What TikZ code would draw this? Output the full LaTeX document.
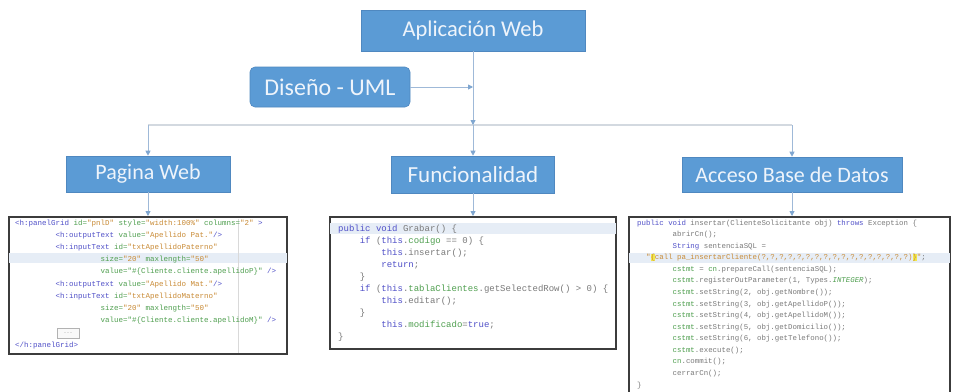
\documentclass[tikz,border=0pt]{standalone}
\usepackage{fontspec}
\setmainfont{Carlito}
\newfontfamily\codefont{Liberation Mono}
\usetikzlibrary{arrows.meta}
\definecolor{boxblue}{HTML}{5B9BD5}
\definecolor{boxedge}{HTML}{4F88C0}
\definecolor{connc}{HTML}{9FB9D8}
\definecolor{arrc}{HTML}{7FA6D0}
\definecolor{hlinec}{HTML}{D3D9E0}
\definecolor{codeframe}{HTML}{3C3C3C}
\definecolor{hlband}{HTML}{E6EDF6}
\definecolor{kwc}{HTML}{5050C8}
\definecolor{grc}{HTML}{4F9F4F}
\definecolor{orc}{HTML}{C98B36}
\definecolor{plc}{HTML}{7A7A7A}
\definecolor{yelc}{HTML}{F2E84B}
\definecolor{labtext}{HTML}{EEF4FB}
\newcommand\kwd[1]{\textcolor{kwc}{#1}}
\newcommand\grn[1]{\textcolor{grc}{#1}}
\newcommand\org[1]{\textcolor{orc}{#1}}
\newcommand\yel[1]{{\setlength\fboxsep{0pt}\colorbox{yelc}{#1}}}
\newcommand\cind[1]{\hspace*{#1\dimexpr0.6em\relax}}
\tikzset{
  lab/.style={fill=boxblue, draw=boxedge, line width=0.6pt, text=labtext,
    font=\fontsize{22}{26}\selectfont, inner sep=0pt},
  conn/.style={draw=connc, line width=0.9pt, -{Triangle[length=5pt,width=5pt,color=arrc]}},
  hline/.style={draw=hlinec, line width=1.4pt},
  codebox/.style={draw=codeframe, line width=2pt, fill=white, inner sep=0pt},
  codetext/.style={anchor=north west, inner sep=0pt, align=left, text=plc},
  band/.style={fill=hlband},
}
\begin{document}
\begin{tikzpicture}[x=1pt,y=-1pt]
\useasboundingbox (0,0) rectangle (953,391);
\clip (0,0) rectangle (953,391);
\fill[white] (0,0) rectangle (953,391);

% label boxes
\node[lab, minimum width=224pt, minimum height=41pt, font=\fontsize{22.5}{26}\selectfont] (app) at (473,30.5) {Aplicación Web};
\node[lab, rounded corners=5pt, minimum width=160pt, minimum height=40pt, font=\fontsize{24}{28}\selectfont] (uml) at (330,87) {Diseño - UML};
\node[lab, minimum width=164pt, minimum height=36pt] (pag) at (148,174) {Pagina Web};
\node[lab, minimum width=163pt, minimum height=37pt, font=\fontsize{23}{27}\selectfont] (fun) at (473,174.5) {Funcionalidad};
\node[lab, minimum width=220pt, minimum height=35pt] (acc) at (792,174.5) {Acceso Base de Datos};

% code boxes
\node[codebox, minimum width=278pt, minimum height=137pt] (code1) at (148,285.5) {};
\node[codebox, minimum width=286pt, minimum height=132pt] (code2) at (473,283) {};
\node[codebox, minimum width=321pt, minimum height=188pt] (code3) at (789.5,311) {};

% highlight bands
\fill[band] ([xshift=1.2pt]code1.west |- 0,253) rectangle ([xshift=-1.2pt]code1.east |- 0,263);
\fill[band] ([xshift=1.2pt]code2.west |- 0,223) rectangle ([xshift=-1.2pt]code2.east |- 0,234);
\fill[band] ([xshift=1.2pt]code3.west |- 0,253) rectangle ([xshift=-1.2pt]code3.east |- 0,263);
\draw[gray!30, line width=0.5pt] (238,218.5) -- (238,353);

% connectors
\coordinate (j) at (473,125);
\draw[hline] (pag.north |- j) -- (acc.north |- j);
\draw[conn] (app.south) -- (j);
\draw[conn] (uml.east) -- (uml.east -| app.south);
\draw[conn] (pag.north |- j) -- (pag.north);
\draw[conn] (j) -- (fun.north);
\draw[conn] (acc.north |- j) -- (acc.north);
\draw[conn] (pag.south) -- (pag.south |- code1.north);
\draw[conn] (fun.south) -- (fun.south |- code2.north);
\draw[conn] (acc.south) -- (acc.south |- code3.north);

% code texts
\node[codetext, font=\codefont\fontsize{7.5pt}{12.2pt}\selectfont] (t1) at (15,219.5) {%
\kwd{<h:panelGrid} \grn{id=}\org{"pnlD"} \grn{style=}\org{"width:100\%"} \grn{columns=}\org{"2"} \kwd{>}\\
\cind{9}\kwd{<h:outputText} \grn{value=}\org{"Apellido Pat."}\kwd{/>}\\
\cind{9}\kwd{<h:inputText} \grn{id=}\org{"txtApellidoPaterno"}\\
\cind{19}\grn{size=}\org{"20"} \grn{maxlength=}\org{"50"}\\
\cind{19}\grn{value=}\grn{"\#\{Cliente.cliente.apellidoP\}"}  \kwd{/>}\\
\cind{9}\kwd{<h:outputText} \grn{value=}\org{"Apellido Mat."}\kwd{/>}\\
\cind{9}\kwd{<h:inputText} \grn{id=}\org{"txtApellidoMaterno"}\\
\cind{19}\grn{size=}\org{"20"} \grn{maxlength=}\org{"50"}\\
\cind{19}\grn{value=}\grn{"\#\{Cliente.cliente.apellidoM\}"}  \kwd{/>}\\
\mbox{}\\
\kwd{</h:panelGrid>}};
\node[draw=gray!60, line width=0.6pt, fill=gray!5, minimum width=22pt, minimum height=10pt, inner sep=0pt,
  font=\codefont\fontsize{5pt}{6pt}\selectfont, text=gray] (btn) at (68,333) {...};

\node[codetext, font=\codefont\fontsize{9pt}{12pt}\selectfont] (t2) at (338,225) {%
\kwd{public void} Grabar() \{\\
\cind{4}\kwd{if} (\kwd{this}.\grn{codigo} == 0) \{\\
\cind{8}\kwd{this}.insertar();\\
\cind{8}\kwd{return};\\
\cind{4}\}\\
\cind{4}\kwd{if} (\kwd{this}.\grn{tablaClientes}.getSelectedRow() > 0) \{\\
\cind{8}\kwd{this}.editar();\\
\cind{4}\}\\
\cind{8}\kwd{this}.\grn{modificado}=\kwd{true};\\
\}};

\node[codetext, font=\codefont\fontsize{7.4pt}{11.57pt}\selectfont] (t3) at (637,219.5) {%
\kwd{public void} insertar(ClienteSolicitante obj) \kwd{throws} Exception \{\\
\cind{8}abrirCn();\\
\cind{8}\kwd{String} sentenciaSQL =\\
\cind{2}\org{"}\yel{\org{\{}}\org{call pa\_insertarCliente(?,?,?,?,?,?,?,?,?,?,?,?,?,?,?,?,?)}\yel{\org{\}}}\org{"};\\
\cind{8}\grn{cstmt} = \grn{cn}.prepareCall(sentenciaSQL);\\
\cind{8}\grn{cstmt}.registerOutParameter(1, Types.\grn{\textit{INTEGER}});\\
\cind{8}\grn{cstmt}.setString(2, obj.getNombre());\\
\cind{8}\grn{cstmt}.setString(3, obj.getApellidoP());\\
\cind{8}\grn{cstmt}.setString(4, obj.getApellidoM());\\
\cind{8}\grn{cstmt}.setString(5, obj.getDomicilio());\\
\cind{8}\grn{cstmt}.setString(6, obj.getTelefono());\\
\cind{8}\grn{cstmt}.execute();\\
\cind{8}\grn{cn}.commit();\\
\cind{8}cerrarCn();\\
\}};
\end{tikzpicture}
\end{document}
